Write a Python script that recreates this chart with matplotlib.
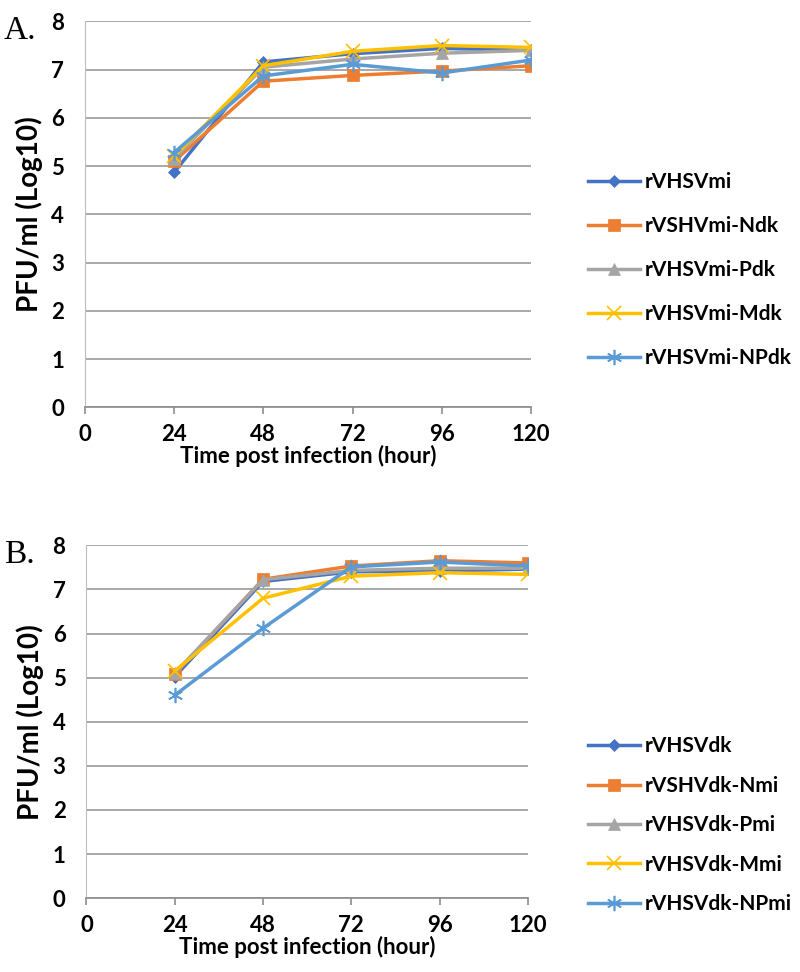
import matplotlib
matplotlib.use('Agg')

import matplotlib.pyplot as plt

hours = [24, 48, 72, 96, 120]
xticks = [0, 24, 48, 72, 96, 120]

# panel A
names_a = ["rVHSVmi", "rVSHVmi-Ndk", "rVHSVmi-Pdk", "rVHSVmi-Mdk", "rVHSVmi-NPdk"]
a_mi = [4.87, 7.16, 7.33, 7.44, 7.40]
a_ndk = [5.10, 6.76, 6.88, 6.97, 7.08]
a_pdk = [5.15, 7.05, 7.22, 7.34, 7.40]
a_mdk = [5.20, 7.08, 7.38, 7.50, 7.46]
a_npdk = [5.28, 6.87, 7.11, 6.93, 7.20]

# panel B
names_b = ["rVHSVdk", "rVSHVdk-Nmi", "rVHSVdk-Pmi", "rVHSVdk-Mmi", "rVHSVdk-NPmi"]
b_dk = [5.02, 7.18, 7.40, 7.42, 7.46]
b_nmi = [5.08, 7.23, 7.53, 7.65, 7.60]
b_pmi = [5.10, 7.22, 7.43, 7.48, 7.48]
b_mmi = [5.15, 6.80, 7.30, 7.38, 7.34]
b_npmi = [4.60, 6.12, 7.51, 7.62, 7.53]

colors = ['#4472C4', '#ED7D31', '#A5A5A5', '#FFC000', '#5B9BD5']
markers = ['D', 's', '^', 'x', (6, 2, 0)]
msizes = [6, 8, 8, 10, 11]

plt.rcParams['font.family'] = ['Lato', 'DejaVu Sans']
plt.rcParams['font.weight'] = 'bold'

fig = plt.figure(figsize=(8, 9.72), dpi=100)
ax1 = fig.add_axes([0.106, 0.581, 0.558, 0.397])
ax2 = fig.add_axes([0.108, 0.076, 0.552, 0.363])


def draw(ax, series, names, leg_y, leg_gap, letter):
    for i in range(len(series)):
        ax.plot(hours, series[i], color=colors[i], marker=markers[i], markersize=msizes[i],
                linewidth=2.5, label=names[i], markeredgewidth=1.2 if i >= 3 else 0.5)
    ax.set_xlim(0, 120)
    ax.set_ylim(0, 8)
    ax.set_xticks(xticks)
    ax.set_yticks(range(0, 9))
    ax.grid(axis='y', color='#9a9a9a', linewidth=1.2)
    ax.set_axisbelow(True)
    for s in ['top', 'right']:
        ax.spines[s].set_visible(False)
    ax.spines['left'].set_color('#bdbdbd')
    ax.spines['bottom'].set_color('#8c8c8c')
    ax.spines['bottom'].set_linewidth(1.2)
    ax.tick_params(axis='y', length=0, labelsize=16, pad=15)
    ax.tick_params(axis='x', length=5, color='#8c8c8c', width=1.2, labelsize=16, pad=7)
    for lab in ax.get_xticklabels() + ax.get_yticklabels():
        lab.set_fontweight('bold')
    ax.set_xlabel("Time post infection (hour)", fontsize=16, fontweight='bold', labelpad=0)
    ax.set_ylabel("PFU/ml (Log10)", fontsize=20, fontweight='bold', labelpad=6)
    ax.legend(loc='center left', bbox_to_anchor=(0.712, leg_y), bbox_transform=fig.transFigure,
              frameon=False, handlelength=2.5, handletextpad=0.2,
              labelspacing=leg_gap, prop={'weight': 'bold', 'size': 15})
    fig.text(0.005, ax.get_position().y1 + 0.006, letter, family='Liberation Serif',
             fontsize=24, fontweight='normal', va='top')


draw(ax1, [a_mi, a_ndk, a_pdk, a_mdk, a_npdk], names_a, 0.722, 1.15, "A.")
draw(ax2, [b_dk, b_nmi, b_pmi, b_mmi, b_npmi], names_b, 0.151, 0.93, "B.")

plt.savefig("out.png")
